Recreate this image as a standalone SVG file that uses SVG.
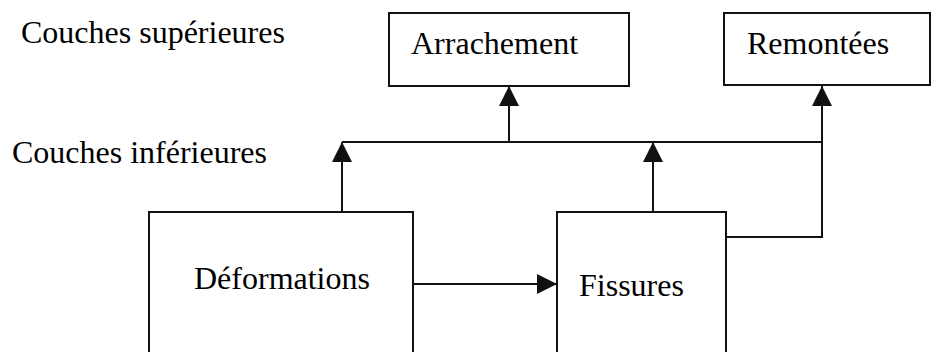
<svg xmlns="http://www.w3.org/2000/svg" width="932" height="352" viewBox="0 0 932 352">
<defs>
<style>
.box{fill:#fff;stroke:#111;stroke-width:2}
.ln{fill:none;stroke:#111;stroke-width:2}
.t{font-family:"Liberation Serif","Times New Roman",serif;font-size:32px;fill:#000}
</style>
<marker id="ah" viewBox="0 0 20 20" refX="20" refY="10" markerWidth="20" markerHeight="20" markerUnits="userSpaceOnUse" orient="auto">
<path d="M0,0 L20,10 L0,20 Z" fill="#111"/>
</marker>
</defs>
<rect width="932" height="352" fill="#fff"/>
<text class="t" x="21" y="43">Couches supérieures</text>
<text class="t" x="12" y="163">Couches inférieures</text>
<g id="connectors">
<path class="ln" d="M342,213 V142" marker-end="url(#ah)"/>
<path class="ln" d="M342,142 H822"/>
<path class="ln" d="M509,142 V86" marker-end="url(#ah)"/>
<path class="ln" d="M653,212 V142" marker-end="url(#ah)"/>
<path class="ln" d="M726,237 H822 V86" marker-end="url(#ah)"/>
<path class="ln" d="M413,284 H557" marker-end="url(#ah)"/>
</g>
<g id="arrachement">
<rect class="box" x="389" y="13" width="240" height="73"/>
<text class="t" x="411" y="54">Arrachement</text>
</g>
<g id="remontees">
<rect class="box" x="724" y="13" width="206" height="72"/>
<text class="t" x="747" y="54">Remontées</text>
</g>
<g id="deformations">
<rect class="box" x="149" y="212" width="264" height="160"/>
<text class="t" x="194" y="289">Déformations</text>
</g>
<g id="fissures">
<rect class="box" x="557" y="212" width="169" height="160"/>
<text class="t" x="579" y="296">Fissures</text>
</g>
</svg>
